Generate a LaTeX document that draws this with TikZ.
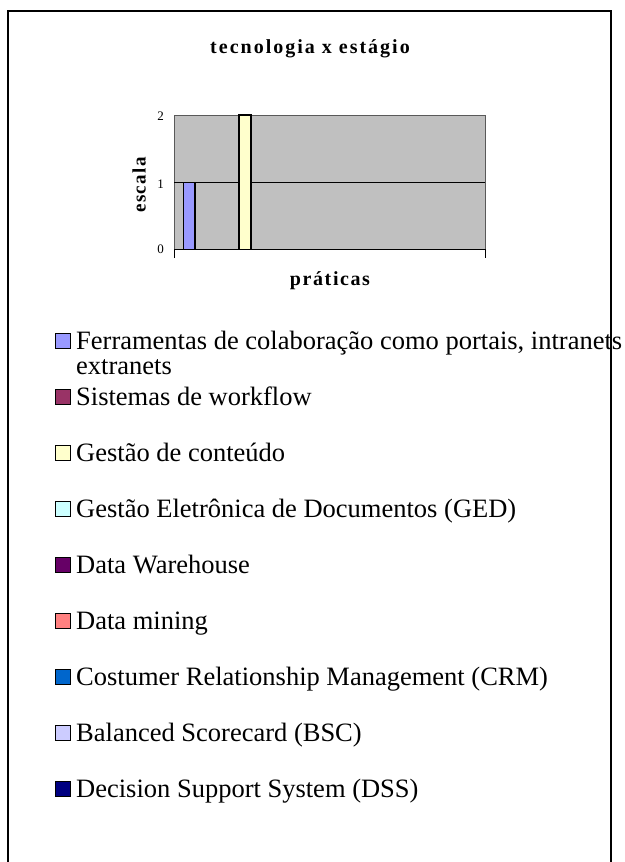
\documentclass[tikz,border=0pt]{standalone}
\usepackage{fontspec}
\setmainfont{Liberation Serif}
\usetikzlibrary{positioning}

\definecolor{plotgray}{HTML}{C0C0C0}
\definecolor{ferrcol}{HTML}{9999FF}
\definecolor{workcol}{HTML}{993366}
\definecolor{contcol}{HTML}{FFFFCC}
\definecolor{gedcol}{HTML}{CCFFFF}
\definecolor{dwcol}{HTML}{660066}
\definecolor{minecol}{HTML}{FF8080}
\definecolor{crmcol}{HTML}{0066CC}
\definecolor{bsccol}{HTML}{CCCCFF}
\definecolor{dsscol}{HTML}{000080}

\begin{document}
\begin{tikzpicture}[x=1pt,y=-1pt,every node/.style={inner sep=0pt},
  legsq/.style={draw=black,line width=1.1pt,minimum size=15pt},
  legtxt/.style={anchor=base west,font=\fontsize{26.5}{25}\selectfont},
  axtitle/.style={font=\bfseries\fontsize{#1}{22}\selectfont},
  ticklab/.style={anchor=east,font=\fontsize{13}{14}\selectfont},
  bar/.style={draw=black,line width=1.3pt}]
\useasboundingbox (0,0) rectangle (624,862);
\draw[line width=1.3pt] (8,862) -- (8,11) -- (611,11) -- (611,862);

% chart
\fill[plotgray] (174,115) rectangle (485,249.3);
\draw[gray!70!black,line width=0.8pt] (174,249.3) -- (174,115) -- (485,115) -- (485,249.3);
\draw[line width=0.8pt] (174,182.7) -- (485,182.7);
\draw[line width=1pt] (174,258) -- (174,249.3) -- (485,249.3) -- (485,258);
\draw[bar,fill=ferrcol] (183.5,249.3) rectangle (195,182.7);
\draw[bar,fill=contcol] (239,249.3) rectangle (251,115);

\node[axtitle=20,anchor=base] (title) at (310,53) {\addfontfeatures{LetterSpace=10}tecnologia x estágio};
\node[axtitle=20,anchor=base] (xlab) at (330,285) {\addfontfeatures{LetterSpace=8}práticas};
\node[axtitle=19,rotate=90] (ylab) at (139,185) {\addfontfeatures{LetterSpace=7}escala};
\node[ticklab] (t2) at (164,116) {2};
\node[ticklab] (t1) at (164,184) {1};
\node[ticklab] (t0) at (164,249) {0};

% legend
\node[legsq,fill=ferrcol] (sq1) at (63,341) {};
\node[legtxt,align=left] (leg1) at (76,374.5) {Ferramentas de colaboração como portais, intranets\\extranets};
\node[legsq,fill=workcol] (sq2) at (63,397) {};
\node[legtxt] (leg2) at (76,405.5) {Sistemas de workflow};
\node[legsq,fill=contcol] (sq3) at (63,453) {};
\node[legtxt] (leg3) at (76,461.5) {Gestão de conteúdo};
\node[legsq,fill=gedcol] (sq4) at (63,509) {};
\node[legtxt] (leg4) at (76,517.5) {Gestão Eletrônica de Documentos (GED)};
\node[legsq,fill=dwcol] (sq5) at (63,565) {};
\node[legtxt] (leg5) at (76,573.5) {Data Warehouse};
\node[legsq,fill=minecol] (sq6) at (63,621) {};
\node[legtxt] (leg6) at (76,629.5) {Data mining};
\node[legsq,fill=crmcol] (sq7) at (63,677) {};
\node[legtxt] (leg7) at (76,685.5) {Costumer Relationship Management (CRM)};
\node[legsq,fill=bsccol] (sq8) at (63,733) {};
\node[legtxt] (leg8) at (76,741.5) {Balanced Scorecard (BSC)};
\node[legsq,fill=dsscol] (sq9) at (63,789) {};
\node[legtxt] (leg9) at (76,797.5) {Decision Support System (DSS)};
\end{tikzpicture}
\end{document}
